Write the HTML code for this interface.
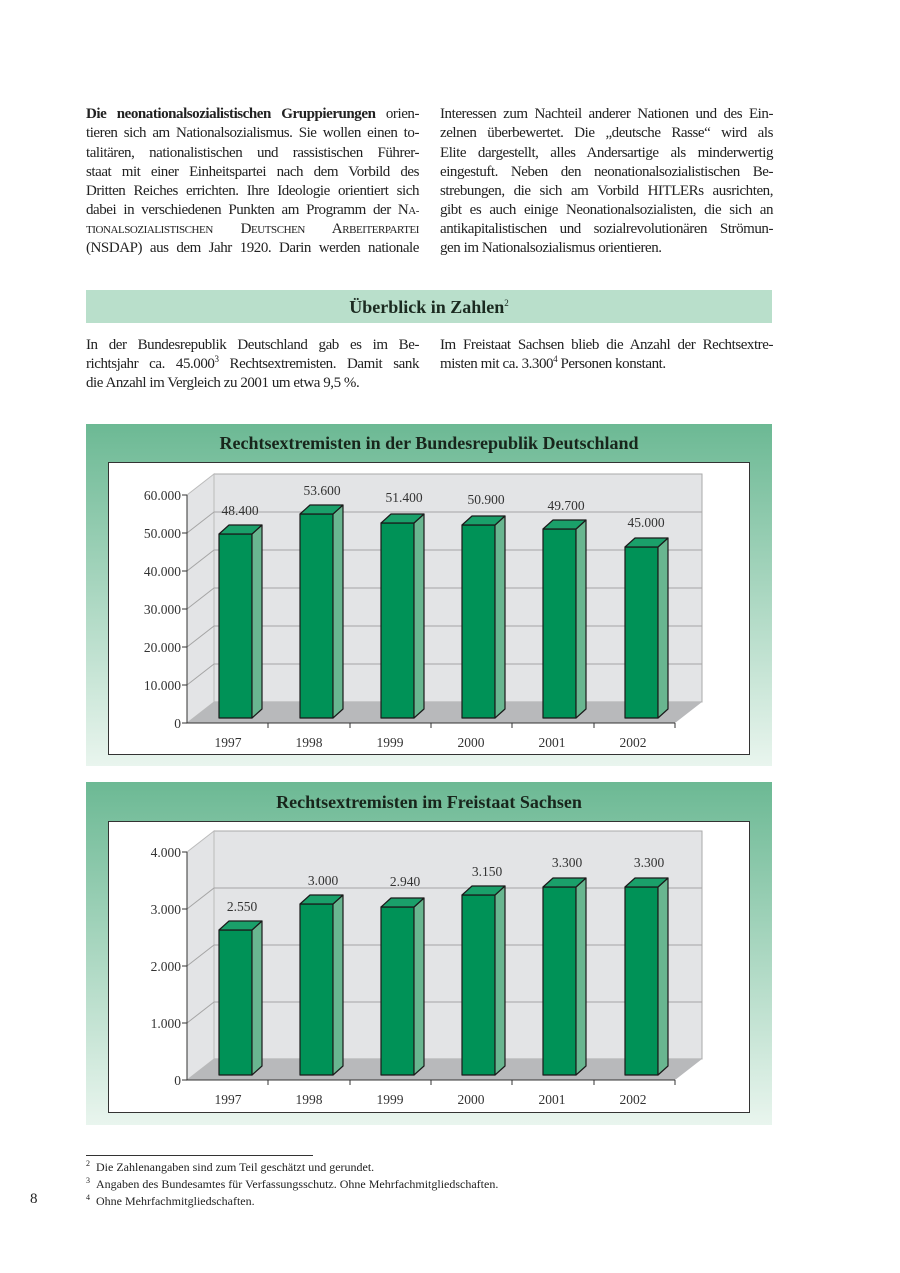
<!DOCTYPE html>
<html><head><meta charset="utf-8"><style>
body{margin:0;background:#fff;}
#p{position:relative;width:900px;height:1273px;overflow:hidden;font-family:"Liberation Serif",serif;color:#222;}
.l{position:absolute;width:333px;font-size:15px;line-height:19px;white-space:nowrap;text-align:justify;text-align-last:justify;letter-spacing:-0.45px;}
.c{position:absolute;font-size:14px;white-space:nowrap;}
.sc{font-size:11px;}
sup{font-size:9px;line-height:0;}
.fn{position:absolute;left:86px;font-size:12px;white-space:nowrap;}
.fn sup{font-size:8px;margin-right:6px;}
</style></head><body><div id="p">
<div class="l" style="left:86px;top:105px"><b>Die neonationalsozialistischen Gruppierungen</b> orien-</div>
<div class="l" style="left:86px;top:124px">tieren sich am Nationalsozialismus. Sie wollen einen to-</div>
<div class="l" style="left:86px;top:144px">talitären, nationalistischen und rassistischen Führer-</div>
<div class="l" style="left:86px;top:163px">staat mit einer Einheitspartei nach dem Vorbild des</div>
<div class="l" style="left:86px;top:182px">Dritten Reiches errichten. Ihre Ideologie orientiert sich</div>
<div class="l" style="left:86px;top:201px">dabei in verschiedenen Punkten am Programm der N<span class="sc">A-</span></div>
<div class="l" style="left:86px;top:220px"><span class="sc">TIONALSOZIALISTISCHEN</span> D<span class="sc">EUTSCHEN</span> A<span class="sc">RBEITERPARTEI</span></div>
<div class="l" style="left:86px;top:239px">(NSDAP) aus dem Jahr 1920. Darin werden nationale</div>
<div class="l" style="left:440px;top:105px">Interessen zum Nachteil anderer Nationen und des Ein-</div>
<div class="l" style="left:440px;top:124px">zelnen überbewertet. Die „deutsche Rasse“ wird als</div>
<div class="l" style="left:440px;top:144px">Elite dargestellt, alles Andersartige als minderwertig</div>
<div class="l" style="left:440px;top:163px">eingestuft. Neben den neonationalsozialistischen Be-</div>
<div class="l" style="left:440px;top:182px">strebungen, die sich am Vorbild HITLERs ausrichten,</div>
<div class="l" style="left:440px;top:201px">gibt es auch einige Neonationalsozialisten, die sich an</div>
<div class="l" style="left:440px;top:220px">antikapitalistischen und sozialrevolutionären Strömun-</div>
<div class="l" style="left:440px;top:239px;text-align-last:left">gen im Nationalsozialismus orientieren.</div>

<div style="position:absolute;left:86px;top:290px;width:686px;height:33px;background:#b9dfcb;text-align:center;font-weight:bold;font-size:18px;line-height:34px;color:#1b2a20">Überblick in Zahlen<sup style="font-weight:normal;font-size:9px">2</sup></div>

<div class="l" style="left:86px;top:336px">In der Bundesrepublik Deutschland gab es im Be-</div>
<div class="l" style="left:86px;top:355px">richtsjahr ca. 45.000<sup>3</sup> Rechtsextremisten. Damit sank</div>
<div class="l" style="left:86px;top:374px;text-align-last:left">die Anzahl im Vergleich zu 2001 um etwa 9,5 %.</div>
<div class="l" style="left:440px;top:336px">Im Freistaat Sachsen blieb die Anzahl der Rechtsextre-</div>
<div class="l" style="left:440px;top:355px;text-align-last:left">misten mit ca. 3.300<sup>4</sup> Personen konstant.</div>

<svg style="position:absolute;left:0;top:0" width="900" height="1273" font-family="Liberation Serif, serif">
<defs><linearGradient id="g" x1="0" y1="0" x2="0" y2="1"><stop offset="0" stop-color="#6cb994"/><stop offset="1" stop-color="#e9f5ee"/></linearGradient></defs>
<rect x="86" y="424" width="686" height="342" fill="url(#g)"/>
<text x="429" y="449" text-anchor="middle" font-size="18" font-weight="bold" fill="#18261c">Rechtsextremisten in der Bundesrepublik Deutschland</text>
<rect x="108.5" y="462.5" width="641" height="292" fill="#fff" stroke="#333"/>
<polygon points="214,702 702,702 702,474 214,474" fill="#e3e4e6" stroke="#aaa"/>
<polygon points="187,723 214,702 214,474 187,495" fill="#e3e4e6" stroke="#bbb"/>
<polygon points="187,723 675,723 702,702 214,702" fill="#b8b9bb"/>
<g stroke="#a5a5a5" fill="none">
<path d="M187,685L214,664H702M187,647L214,626H702M187,609L214,588H702M187,571L214,550H702M187,533L214,512H702"/>
</g>
<g stroke="#333"><path d="M187,495V723H675M182,723H187M182,685H187M182,647H187M182,609H187M182,571H187M182,533H187M182,495H187M268,723v5M350,723v5M431,723v5M512,723v5M594,723v5M675,723v5" fill="none"/></g>
<g font-size="13.5" fill="#333" text-anchor="end">
<text x="181" y="728">0</text><text x="181" y="690">10.000</text><text x="181" y="652">20.000</text><text x="181" y="614">30.000</text><text x="181" y="576">40.000</text><text x="181" y="538">50.000</text><text x="181" y="500">60.000</text></g>
<g font-size="13.5" fill="#333" text-anchor="middle">
<text x="228" y="747">1997</text><text x="309" y="747">1998</text><text x="390" y="747">1999</text><text x="471" y="747">2000</text><text x="552" y="747">2001</text><text x="633" y="747">2002</text>
<text x="240" y="515">48.400</text><text x="322" y="495">53.600</text><text x="404" y="502">51.400</text><text x="486" y="504">50.900</text><text x="566" y="510">49.700</text><text x="646" y="527">45.000</text></g>
<g stroke="#1a1a1a" stroke-width="1.2" stroke-linejoin="round">
<g><rect x="219" y="534" width="33" height="184" fill="#009257"/><polygon points="252,718 262,709 262,525 252,534" fill="#69b690"/><polygon points="219,534 229,525 262,525 252,534" fill="#1aa06a"/></g>
<g><rect x="300" y="514" width="33" height="204" fill="#009257"/><polygon points="333,718 343,709 343,505 333,514" fill="#69b690"/><polygon points="300,514 310,505 343,505 333,514" fill="#1aa06a"/></g>
<g><rect x="381" y="523" width="33" height="195" fill="#009257"/><polygon points="414,718 424,709 424,514 414,523" fill="#69b690"/><polygon points="381,523 391,514 424,514 414,523" fill="#1aa06a"/></g>
<g><rect x="462" y="525" width="33" height="193" fill="#009257"/><polygon points="495,718 505,709 505,516 495,525" fill="#69b690"/><polygon points="462,525 472,516 505,516 495,525" fill="#1aa06a"/></g>
<g><rect x="543" y="529" width="33" height="189" fill="#009257"/><polygon points="576,718 586,709 586,520 576,529" fill="#69b690"/><polygon points="543,529 553,520 586,520 576,529" fill="#1aa06a"/></g>
<g><rect x="625" y="547" width="33" height="171" fill="#009257"/><polygon points="658,718 668,709 668,538 658,547" fill="#69b690"/><polygon points="625,547 635,538 668,538 658,547" fill="#1aa06a"/></g>
</g>

<rect x="86" y="782" width="686" height="343" fill="url(#g)"/>
<text x="429" y="808" text-anchor="middle" font-size="18" font-weight="bold" fill="#18261c">Rechtsextremisten im Freistaat Sachsen</text>
<rect x="108.5" y="821.5" width="641" height="291" fill="#fff" stroke="#333"/>
<polygon points="214,1059 702,1059 702,831 214,831" fill="#e3e4e6" stroke="#aaa"/>
<polygon points="187,1080 214,1059 214,831 187,852" fill="#e3e4e6" stroke="#bbb"/>
<polygon points="187,1080 675,1080 702,1059 214,1059" fill="#b8b9bb"/>
<g stroke="#a5a5a5" fill="none"><path d="M187,1023L214,1002H702M187,966L214,945H702M187,909L214,888H702"/></g>
<g stroke="#333"><path d="M187,852V1080H675M182,1080H187M182,1023H187M182,966H187M182,909H187M182,852H187M268,1080v5M350,1080v5M431,1080v5M512,1080v5M594,1080v5M675,1080v5" fill="none"/></g>
<g font-size="13.5" fill="#333" text-anchor="end">
<text x="181" y="1085">0</text><text x="181" y="1028">1.000</text><text x="181" y="971">2.000</text><text x="181" y="914">3.000</text><text x="181" y="857">4.000</text></g>
<g font-size="13.5" fill="#333" text-anchor="middle">
<text x="228" y="1104">1997</text><text x="309" y="1104">1998</text><text x="390" y="1104">1999</text><text x="471" y="1104">2000</text><text x="552" y="1104">2001</text><text x="633" y="1104">2002</text>
<text x="242" y="911">2.550</text><text x="323" y="885">3.000</text><text x="405" y="886">2.940</text><text x="487" y="876">3.150</text><text x="567" y="867">3.300</text><text x="649" y="867">3.300</text></g>
<g stroke="#1a1a1a" stroke-width="1.2" stroke-linejoin="round">
<g><rect x="219" y="930" width="33" height="145" fill="#009257"/><polygon points="252,1075 262,1066 262,921 252,930" fill="#69b690"/><polygon points="219,930 229,921 262,921 252,930" fill="#1aa06a"/></g>
<g><rect x="300" y="904" width="33" height="171" fill="#009257"/><polygon points="333,1075 343,1066 343,895 333,904" fill="#69b690"/><polygon points="300,904 310,895 343,895 333,904" fill="#1aa06a"/></g>
<g><rect x="381" y="907" width="33" height="168" fill="#009257"/><polygon points="414,1075 424,1066 424,898 414,907" fill="#69b690"/><polygon points="381,907 391,898 424,898 414,907" fill="#1aa06a"/></g>
<g><rect x="462" y="895" width="33" height="180" fill="#009257"/><polygon points="495,1075 505,1066 505,886 495,895" fill="#69b690"/><polygon points="462,895 472,886 505,886 495,895" fill="#1aa06a"/></g>
<g><rect x="543" y="887" width="33" height="188" fill="#009257"/><polygon points="576,1075 586,1066 586,878 576,887" fill="#69b690"/><polygon points="543,887 553,878 586,878 576,887" fill="#1aa06a"/></g>
<g><rect x="625" y="887" width="33" height="188" fill="#009257"/><polygon points="658,1075 668,1066 668,878 658,887" fill="#69b690"/><polygon points="625,887 635,878 668,878 658,887" fill="#1aa06a"/></g>
</g>
<line x1="86" y1="1155.5" x2="313" y2="1155.5" stroke="#333"/>
</svg>

<div class="fn" style="top:1160px"><sup>2</sup>Die Zahlenangaben sind zum Teil geschätzt und gerundet.</div>
<div class="fn" style="top:1177px"><sup>3</sup>Angaben des Bundesamtes für Verfassungsschutz. Ohne Mehrfachmitgliedschaften.</div>
<div class="fn" style="top:1194px"><sup>4</sup>Ohne Mehrfachmitgliedschaften.</div>
<div class="c" style="left:30px;top:1191px;font-size:15px">8</div>
</div></body></html>
